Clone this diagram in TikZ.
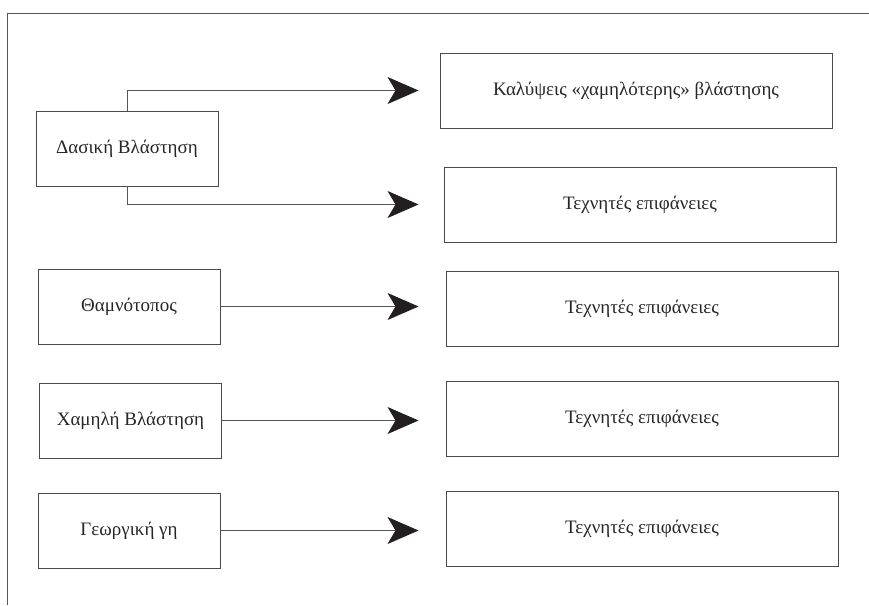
\documentclass[tikz,border=0pt]{standalone}
\usepackage{fontspec}
\setmainfont{Liberation Serif}
\usetikzlibrary{arrows.meta}
\definecolor{linegray}{HTML}{555555}
\definecolor{boxgray}{HTML}{4A4A4A}
\definecolor{tipdark}{HTML}{231F20}
\tikzset{
  leftbox/.style={draw=boxgray, line width=0.95pt, minimum width=182pt, minimum height=75pt, inner sep=0pt, font=\fontsize{19}{21}\selectfont, text=black!85},
  rightbox/.style={draw=boxgray, line width=0.95pt, minimum width=392pt, minimum height=75pt, inner sep=0pt, font=\fontsize{19}{21}\selectfont, text=black!85},
  conn/.style={draw=linegray, line width=0.9pt, -{Stealth[length=31pt, width=27pt, inset=8pt, color=tipdark]}},
}
\begin{document}
\begin{tikzpicture}[x=1pt, y=-1pt]
\useasboundingbox (0,0) rectangle (869,605);
% frame
\coordinate (fr) at (869,13);
\coordinate (fc) at (7,13);
\coordinate (fb) at (7,605);
\draw[linegray, line width=1pt] (fr) -- (fc) -- (fb);
% left boxes
\node[leftbox] (das) at (127,148.5) {Δασική Βλάστηση};
\node[leftbox] (tham) at (129,306.5) {Θαμνότοπος};
\node[leftbox] (cham) at (130.5,420.5) {Χαμηλή Βλάστηση};
\node[leftbox] (geo) at (129,530.5) {Γεωργική γη};
% right boxes
\node[rightbox] (kal) at (636,90.5) {Καλύψεις «χαμηλότερης» βλάστησης};
\node[rightbox] (t1) at (640,204.5) {Τεχνητές επιφάνειες};
\node[rightbox] (t2) at (642,308.5) {Τεχνητές επιφάνειες};
\node[rightbox] (t3) at (642,418.5) {Τεχνητές επιφάνειες};
\node[rightbox] (t4) at (642,529) {Τεχνητές επιφάνειες};
% connectors
\draw[conn, shorten >=21pt] (das.north) |- (kal.west);
\draw[conn, shorten >=25pt] (das.south) |- (t1.west);
\draw[conn, shorten >=27pt] (tham.east) -- (tham.east -| t2.west);
\draw[conn, shorten >=27pt] (cham.east) -- (cham.east -| t3.west);
\draw[conn, shorten >=27pt] (geo.east) -- (geo.east -| t4.west);
\end{tikzpicture}
\end{document}
